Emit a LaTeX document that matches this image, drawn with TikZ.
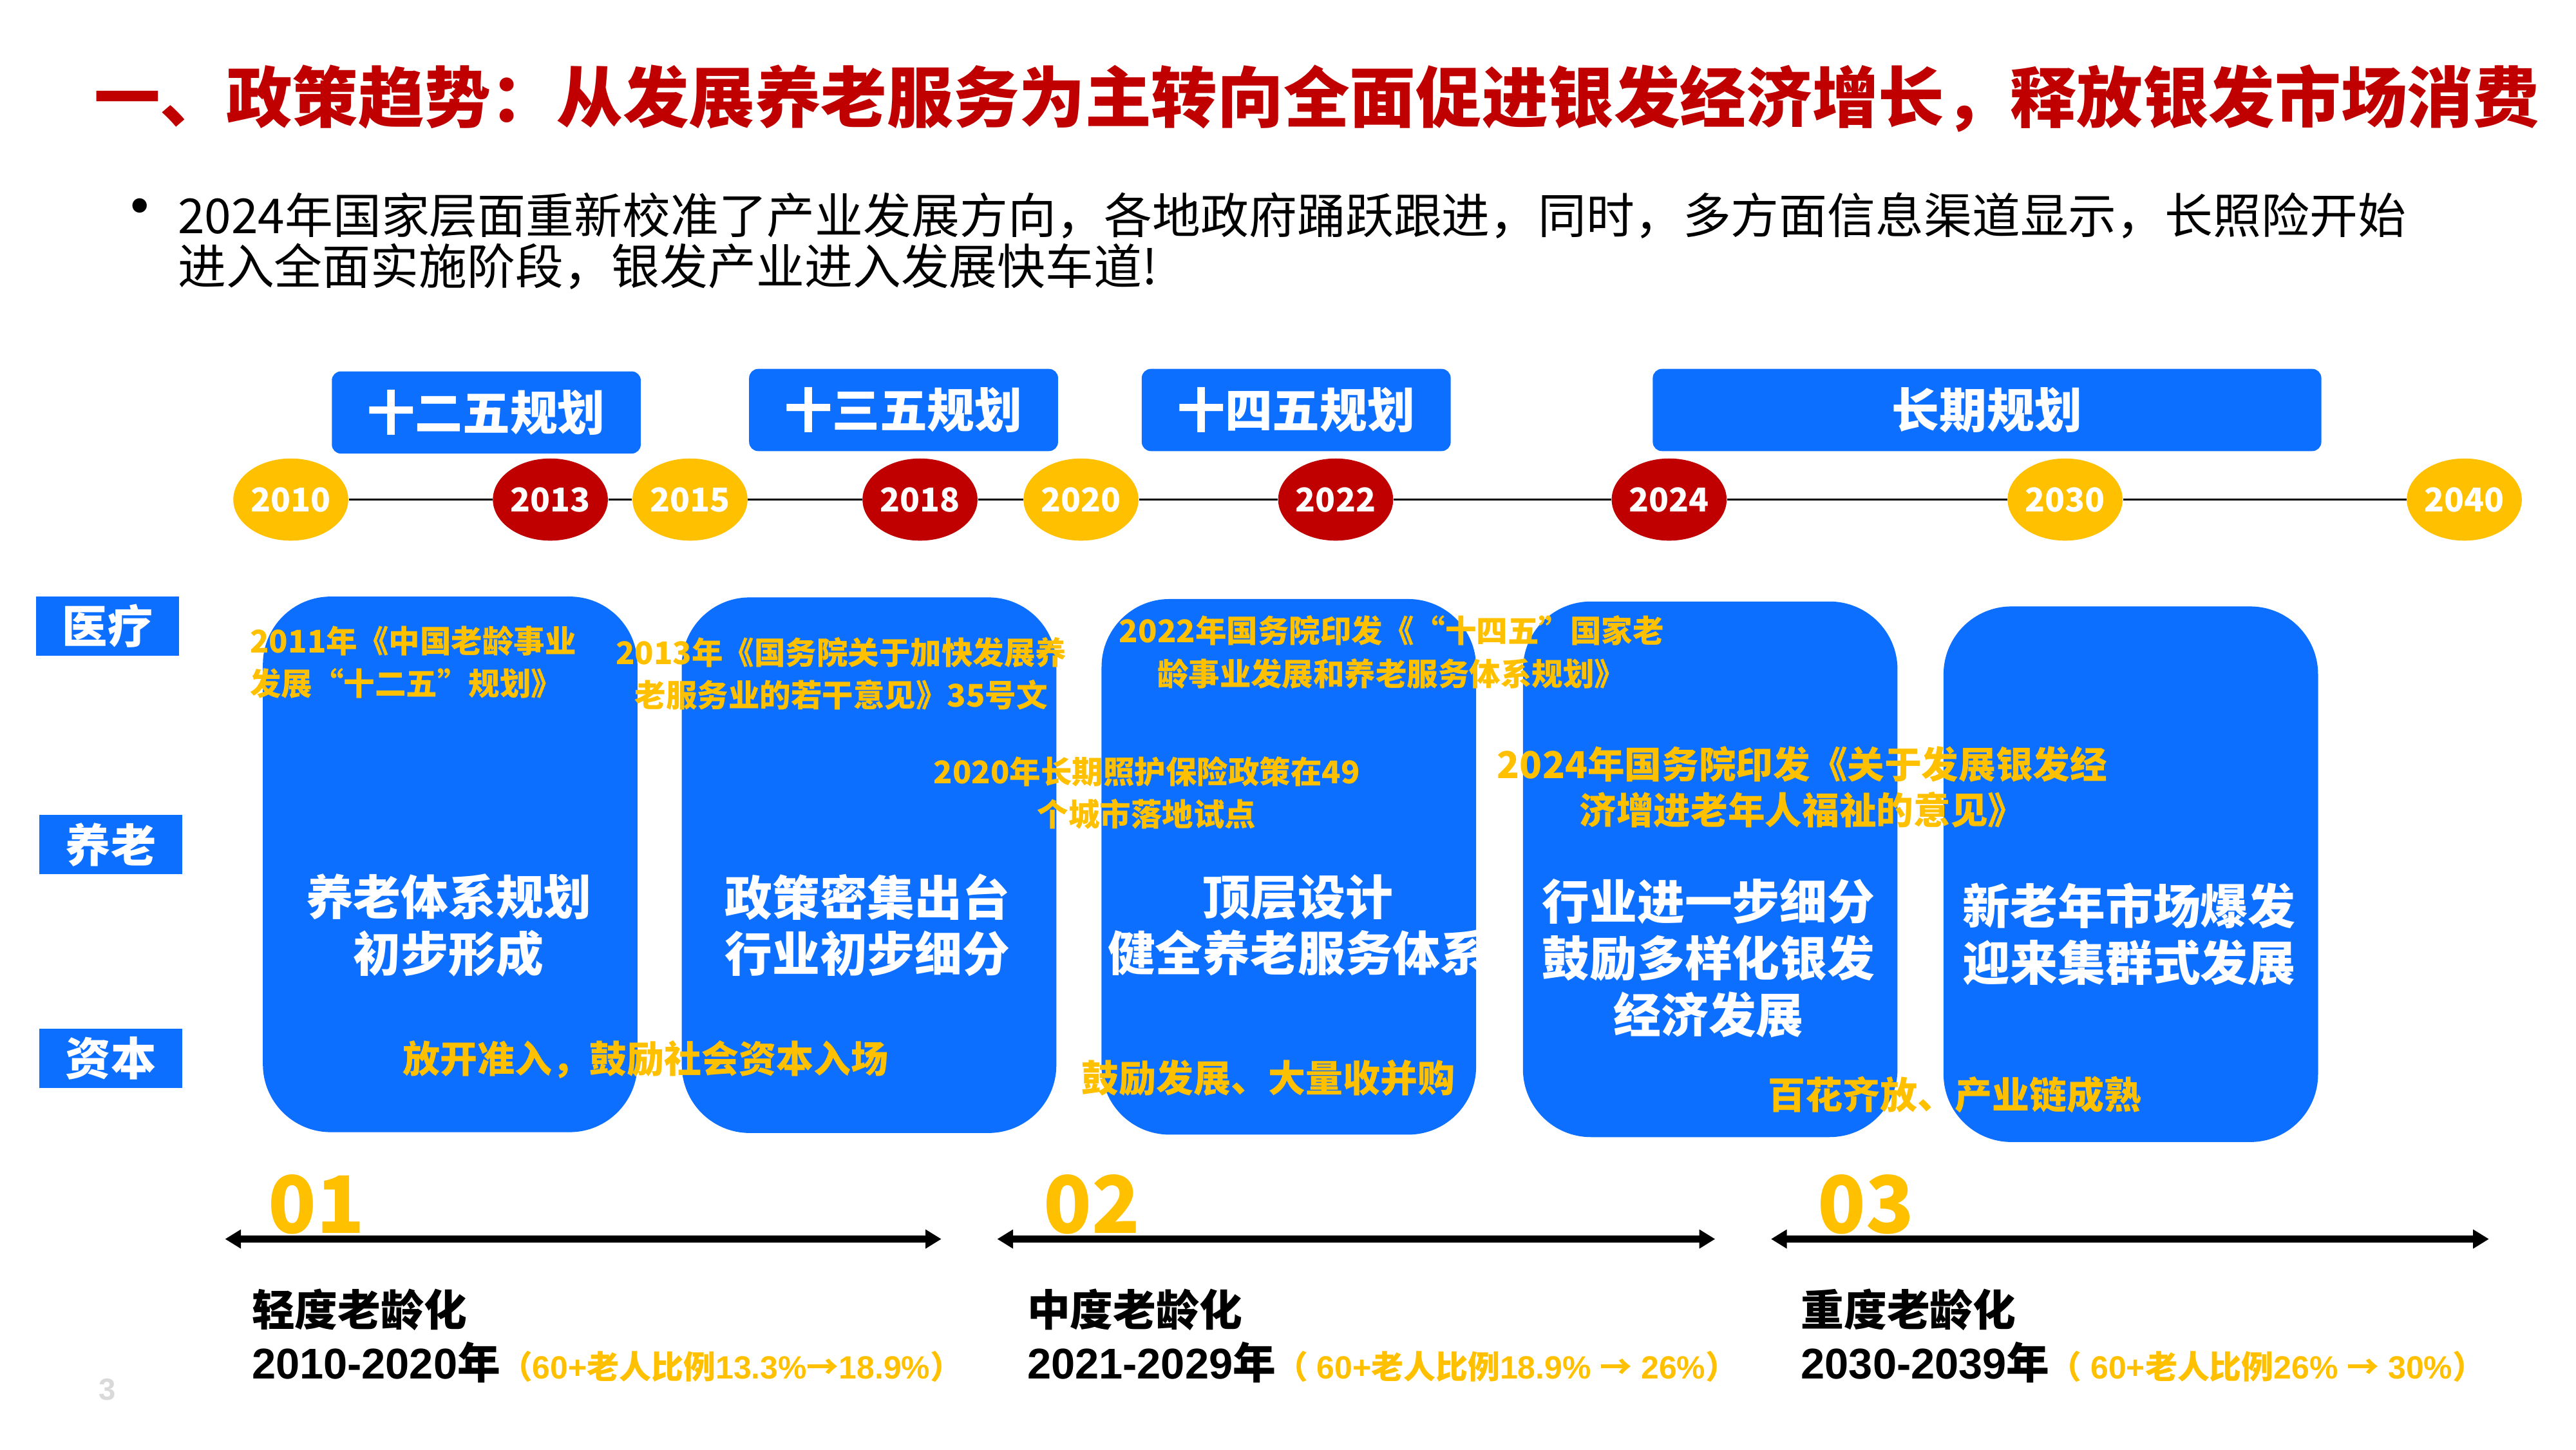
\documentclass[tikz,border=0pt]{standalone}
\usepackage{fontspec}
\setmainfont{Noto Sans CJK SC}
\newfontfamily\arialfont{Liberation Sans}
\usepackage{xcolor}
\usepackage{tikz}
\usetikzlibrary{arrows.meta,shapes.geometric}
\definecolor{titlered}{HTML}{C00000}
\definecolor{yearred}{HTML}{C00000}
\definecolor{gold}{HTML}{FFC000}
\definecolor{planblue}{HTML}{0D6FFF}
\definecolor{pagegray}{HTML}{D9D9D9}
\newcommand\lat[1]{{\arialfont #1}}
\tikzset{
  titletxt/.style={text=titlered, inner sep=0, font=\fontsize{29.2}{31}\selectfont\bfseries},
  bullettxt/.style={text=black, inner sep=0, align=left, font=\fontsize{21.3}{22.5}\selectfont},
  planbox/.style={fill=planblue, rounded corners=4pt, minimum width=136.5pt, minimum height=36.3pt,
    inner sep=0, text=white, font=\fontsize{21}{22}\selectfont\bfseries},
  yearnode/.style={ellipse, minimum width=50.8pt, minimum height=36.3pt, inner sep=0,
    text=white, font=\fontsize{14.5}{15}\selectfont\bfseries},
  tline/.style={draw=black, line width=1pt},
  rowbox/.style={fill=planblue, minimum width=63.1pt, minimum height=26.1pt, inner sep=0,
    text=white, font=\fontsize{20}{21}\selectfont\bfseries},
  stagebox/.style={fill=planblue, rounded corners=30pt, minimum width=165.5pt, minimum height=236.6pt, inner sep=0},
  stagetxt/.style={text=white, align=center, inner sep=0, font=\fontsize{21}{25}\selectfont\bfseries},
  goldnote/.style={text=gold, inner sep=0, font=\fontsize{13.8}{19}\selectfont\bfseries},
  goldbig/.style={text=gold, inner sep=0, align=center, font=\fontsize{16.4}{20.3}\selectfont\bfseries},
  capnote/.style={text=gold, inner sep=0, font=\fontsize{16.5}{18}\selectfont\bfseries},
  stagenum/.style={text=gold, inner sep=0, font=\fontsize{35}{36}\selectfont\bfseries},
  stagearrow/.style={draw=black, line width=2.9pt, {Triangle[width=8pt,length=7pt]}-{Triangle[width=8pt,length=7pt]}},
  agetxt/.style={text=black, inner sep=0, font=\fontsize{19}{20}\selectfont\bfseries}
}
\newcommand\ratio[1]{{\color{gold}\fontsize{14.2}{15}\selectfont #1}}

\begin{document}
\begin{tikzpicture}[x=0.02551cm, y=-0.02551cm]
  \fill[white] (0,0) rectangle (1568,882);
  \useasboundingbox (0,0) rectangle (1568,882);

  % Title and introduction
  \node[titletxt, anchor=west] (title) at (57,60) {一、政策趋势：从发展养老服务为主转向全面促进银发经济增长，释放银发市场消费};
  \node[bullettxt, font=\fontsize{30}{30}\selectfont] (dot) at (85,131) {•};
  \node[bullettxt, anchor=west] (intro) at (108,146.5)
    {2024年国家层面重新校准了产业发展方向，各地政府踊跃跟进，同时，多方面信息渠道显示，长照险开始\\进入全面实施阶段，银发产业进入发展快车道!};

  % Plan periods
  \node[planbox] (p12) at (296,251) {十二五规划};
  \node[planbox] (p13) at (550,249.5) {十三五规划};
  \node[planbox] (p14) at (789,249.5) {十四五规划};
  \node[planbox, minimum width=295.4pt] (plong) at (1209.5,249.5) {长期规划};

  % Year timeline
  \foreach \yr/\xx/\col in {2010/177/gold, 2013/335/yearred, 2015/420/gold, 2018/560/yearred,
      2020/658/gold, 2022/813/yearred, 2024/1016/yearred, 2030/1257/gold, 2040/1500/gold}
    \node[yearnode, fill=\col] (y\yr) at (\xx,304) {\yr};
  \foreach \a/\b in {2010/2013, 2013/2015, 2015/2018, 2018/2020, 2020/2022, 2022/2024, 2024/2030, 2030/2040}
    \draw[tline] (y\a) -- (y\b);

  % Row labels
  \node[rowbox] (rmed) at (65.5,381) {医疗};
  \node[rowbox] (rcare) at (67.5,514) {养老};
  \node[rowbox] (rcap) at (67.5,644) {资本};

  % Stage boxes
  \node[stagebox] (s1) at (274,526) {};
  \node[stagebox] (s2) at (529,526.5) {};
  \node[stagebox] (s3) at (784.5,527.5) {};
  \node[stagebox] (s4) at (1041,529) {};
  \node[stagebox] (s5) at (1297,532) {};

  \node[stagetxt] (t1) at (273,563) {养老体系规划\\初步形成};
  \node[stagetxt] (t2) at (528,563) {政策密集出台\\行业初步细分};
  \node[stagetxt] (t3) at (790,563) {顶层设计\\健全养老服务体系};
  \node[stagetxt] (t4) at (1040,583) {行业进一步细分\\鼓励多样化银发\\经济发展};
  \node[stagetxt] (t5) at (1296,568.5) {新老年市场爆发\\迎来集群式发展};

  % Policy notes
  \node[goldnote, anchor=west, align=left] (n2011) at (152,403) {2011年《中国老龄事业\\发展“十二五”规划》};
  \node[goldnote, align=center] (n2013) at (512,410) {2013年《国务院关于加快发展养\\老服务业的若干意见》35号文};
  \node[goldnote, align=center] (n2020) at (698,482.5) {2020年长期照护保险政策在49\\个城市落地试点};
  \node[goldnote, align=center] (n2022) at (847,397) {2022年国务院印发《“十四五”国家老\\龄事业发展和养老服务体系规划》};
  \node[goldbig] (n2024) at (1097,479) {2024年国务院印发《关于发展银发经\\济增进老年人福祉的意见》};

  \node[capnote] (c1) at (393,645) {放开准入，鼓励社会资本入场};
  \node[capnote] (c2) at (772,656) {鼓励发展、大量收并购};
  \node[capnote] (c3) at (1190,666) {百花齐放、产业链成熟};

  % Ageing stages
  \coordinate (a1s) at (137,754); \coordinate (a1e) at (573,754);
  \coordinate (a2s) at (607,754); \coordinate (a2e) at (1044,754);
  \coordinate (a3s) at (1078,754); \coordinate (a3e) at (1515,754);
  \draw[stagearrow] (a1s) -- (a1e);
  \draw[stagearrow] (a2s) -- (a2e);
  \draw[stagearrow] (a3s) -- (a3e);

  \node[stagenum, anchor=west] (num1) at (163,733) {01};
  \node[stagenum, anchor=west] (num2) at (635,733) {02};
  \node[stagenum, anchor=west] (num3) at (1106,733) {03};

  \node[agetxt, anchor=west] (g1) at (153,797) {轻度老龄化};
  \node[agetxt, anchor=west] (g2) at (625,797) {中度老龄化};
  \node[agetxt, anchor=west] (g3) at (1096,797) {重度老龄化};
  \node[agetxt, anchor=west] (d1) at (153,829)
    {\lat{2010-2020}年\ratio{（\lat{60+}老人比例\lat{13.3\%}→\lat{18.9\%}）}};
  \node[agetxt, anchor=west] (d2) at (625,829)
    {\lat{2021-2029}年\ratio{（\lat{ 60+}老人比例\lat{18.9\% }→\lat{ 26\%}）}};
  \node[agetxt, anchor=west] (d3) at (1096,829)
    {\lat{2030-2039}年\ratio{（\lat{ 60+}老人比例\lat{26\% }→\lat{ 30\%}）}};

  \node[text=pagegray, font=\fontsize{13.5}{14}\selectfont\bfseries\arialfont] (page) at (65.5,845.5) {3};
\end{tikzpicture}
\end{document}
